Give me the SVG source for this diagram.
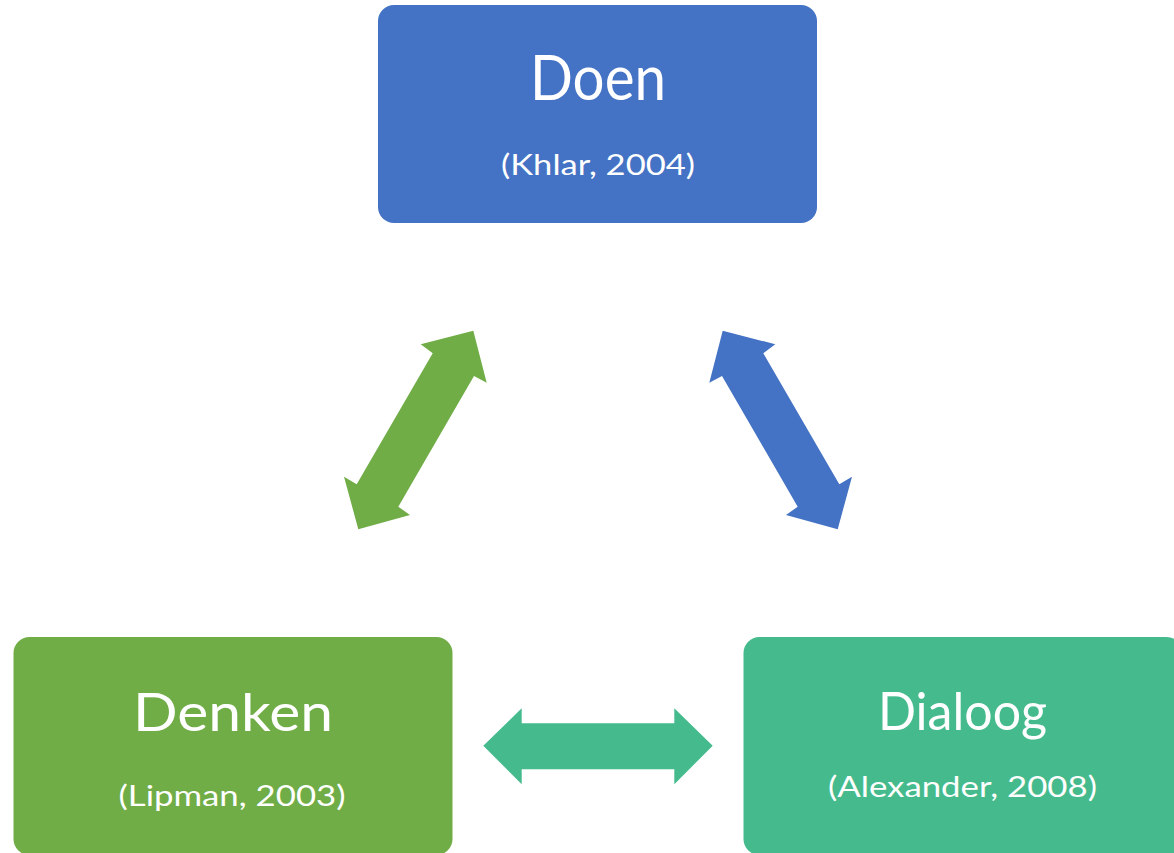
<svg xmlns="http://www.w3.org/2000/svg" width="1174" height="853" viewBox="0 0 1174 853">
<style>
.t{font-family:Lato,"Open Sans","Liberation Sans",sans-serif;fill:#fff;text-anchor:middle}
.big{font-size:62px}
.mid{font-size:53px}
.sub{font-size:29px}
</style>
<rect width="1174" height="853" fill="#fff"/>
<g id="connectors">
<polygon fill="#70AD47" points="473.3,330.7 486.7,382.7 474,376 398.3,506.7 410,515 358.3,529.3 344,476.7 356.7,484.3 432.7,353.3 420.7,344.3"/>
<polygon fill="#4472C4" points="722.7,330.7 775.3,344.3 763.3,353.3 839.3,484.3 852,476.7 837.7,529.3 786,515 797.7,506.7 722,376 709.3,382.7"/>
<polygon fill="#45BB8D" points="483.3,745.7 521.7,708.3 521.7,723.3 674.3,723.3 674.3,708.3 712.7,745.7 674.3,784.3 674.3,769.3 521.7,769.3 521.7,784.3"/>
</g>
<g id="doen">
<rect x="378" y="5" width="439" height="218" rx="16" fill="#4472C4"/>
<text class="t big" x="598" y="100" textLength="136" lengthAdjust="spacingAndGlyphs">Doen</text>
<text class="t sub" x="598" y="175" textLength="194" lengthAdjust="spacingAndGlyphs">(Khlar, 2004)</text>
</g>
<g id="denken">
<rect x="13.5" y="637" width="439" height="218" rx="16" fill="#70AD47"/>
<text class="t mid" x="233" y="731" textLength="200" lengthAdjust="spacingAndGlyphs">Denken</text>
<text class="t sub" x="232" y="806" textLength="227" lengthAdjust="spacingAndGlyphs">(Lipman, 2003)</text>
</g>
<g id="dialoog">
<rect x="743.5" y="637" width="439" height="218" rx="16" fill="#45BB8D"/>
<text class="t mid" x="962.5" y="730" textLength="169" lengthAdjust="spacingAndGlyphs">Dialoog</text>
<text class="t sub" x="962.5" y="797" textLength="269" lengthAdjust="spacingAndGlyphs">(Alexander, 2008)</text>
</g>
</svg>
